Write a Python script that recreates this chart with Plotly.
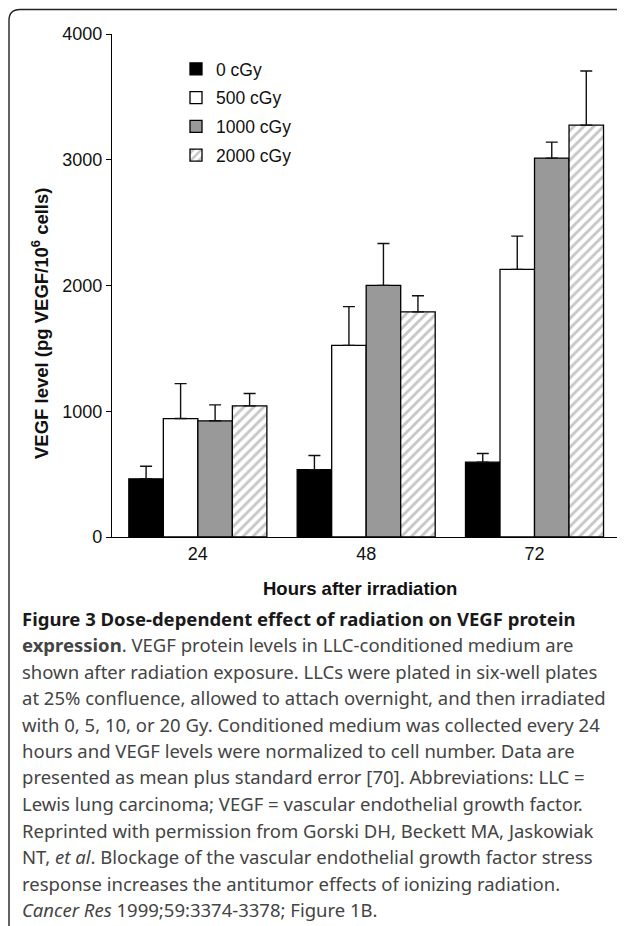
import plotly.graph_objects as go

# ---------------- data ----------------
hours = ["24", "48", "72"]
series_names = ["0 cGy", "500 cGy", "1000 cGy", "2000 cGy"]
vegf_0 = [463, 535, 595]
vegf_500 = [942, 1524, 2128]
vegf_1000 = [924, 2001, 3013]
vegf_2000 = [1043, 1790, 3275]
se_0 = [100, 113, 69]
se_500 = [278, 308, 265]
se_1000 = [127, 333, 127]
se_2000 = [98, 129, 431]
y_ticks = [0, 1000, 2000, 3000, 4000]

caption_lines = [
    "<b>Figure 3 Dose-dependent effect of radiation on VEGF protein</b>",
    "<b>expression</b>. VEGF protein levels in LLC-conditioned medium are",
    "shown after radiation exposure. LLCs were plated in six-well plates",
    "at 25% confluence, allowed to attach overnight, and then irradiated",
    "with 0, 5, 10, or 20 Gy. Conditioned medium was collected every 24",
    "hours and VEGF levels were normalized to cell number. Data are",
    "presented as mean plus standard error [70]. Abbreviations: LLC =",
    "Lewis lung carcinoma; VEGF = vascular endothelial growth factor.",
    "Reprinted with permission from Gorski DH, Beckett MA, Jaskowiak",
    "NT, <i>et al</i>. Blockage of the vascular endothelial growth factor stress",
    "response increases the antitumor effects of ionizing radiation.",
    "<i>Cancer Res</i> 1999;59:3374-3378; Figure 1B.",
]

# ---------------- layout geometry ----------------
# the page body has an 8px margin, so the figure is 8px smaller on each side
OFF = 8
W, H = 625 - OFF, 926 - OFF
ML, MR, MT, MB = 104, 8, 26, 389
PW, PH = W - ML - MR, H - MT - MB


def px(xs):
    # screen x -> paper x
    return (xs - OFF - ML) / PW


def py(ys):
    # screen y -> paper y
    return (H - MB - (ys - OFF)) / PH


AX_FONT = "Liberation Sans, Arial, Helvetica, sans-serif"
CAP_FONT = "Noto Sans, Open Sans, sans-serif"

values = [vegf_0, vegf_500, vegf_1000, vegf_2000]
errors = [se_0, se_500, se_1000, se_2000]
fills = ["#000000", "#ffffff", "#999999", "#ffffff"]
patterns = ["", "", "", "/"]

fig = go.Figure()
for i, name in enumerate(series_names):
    marker = dict(color=fills[i], line=dict(color="#000000", width=1.3))
    if patterns[i]:
        marker["pattern"] = dict(shape=patterns[i], fgcolor="#8f8f8f",
                                 bgcolor="#ffffff", size=7, solidity=0.42)
    fig.add_trace(go.Bar(
        x=hours, y=values[i], name=name, marker=marker,
        legendgroup=name,
        error_y=dict(type="data", array=errors[i],
                     arrayminus=[0] * len(errors[i]), symmetric=False,
                     color="#111111", thickness=1.4, width=6),
    ))

annotations = []
# y-axis title
annotations.append(dict(
    text="<b>VEGF level (pg VEGF/10<sup>6</sup> cells)</b>",
    x=px(40), y=py(324), xref="paper", yref="paper", textangle=-90,
    showarrow=False, font=dict(family=AX_FONT, size=18.5, color="#111111"),
    xanchor="center", yanchor="middle"))
# x-axis title
annotations.append(dict(
    text="<b>Hours after irradiation</b>",
    x=px(360), y=py(588), xref="paper", yref="paper",
    showarrow=False, font=dict(family=AX_FONT, size=18.5, color="#111111"),
    xanchor="center", yanchor="middle"))

line_y0, line_dy = 618, 26.5
for k, txt in enumerate(caption_lines):
    annotations.append(dict(
        text=txt, x=px(20), y=py(line_y0 + k * line_dy),
        xref="paper", yref="paper", showarrow=False,
        xanchor="left", yanchor="middle", align="left",
        font=dict(family=CAP_FONT, size=18.5,
                  color="#1a1a1a" if k == 0 else "#444444")))

# frame with rounded top-left corner (screen coordinates)
fx, fy, r = 9, 9.5, 11
frame_path = (f"M {px(fx)},{py(926 + 5)} L {px(fx)},{py(fy + r)} "
              f"Q {px(fx)},{py(fy)} {px(fx + r)},{py(fy)} L {px(625 + 5)},{py(fy)}")

fig.update_layout(
    width=W, height=H,
    margin=dict(l=ML, r=MR, t=MT, b=MB, pad=0),
    paper_bgcolor="#ffffff", plot_bgcolor="#ffffff",
    barmode="group", bargap=0.18, bargroupgap=0,
    font=dict(family=AX_FONT, size=18, color="#111111"),
    showlegend=True,
    legend=dict(x=px(176), y=py(51), xanchor="left", yanchor="top",
                bgcolor="rgba(0,0,0,0)", borderwidth=0,
                font=dict(family=AX_FONT, size=17.5, color="#111111"),
                traceorder="grouped", tracegroupgap=3,
                itemclick=False),
    xaxis=dict(range=[-0.51, 2.49], showline=True, linecolor="#000000",
               linewidth=1.4, ticks="", showgrid=False, zeroline=False,
               tickfont=dict(family=AX_FONT, size=18, color="#111111"),
               fixedrange=True),
    yaxis=dict(range=[0, 4000], tickvals=y_ticks, showline=True,
               linecolor="#000000", linewidth=1.4, ticks="outside",
               ticklen=5, tickwidth=1.4, tickcolor="#000000",
               showgrid=False, zeroline=False,
               tickfont=dict(family=AX_FONT, size=18, color="#111111"),
               fixedrange=True),
    annotations=annotations,
    shapes=[dict(type="path", xref="paper", yref="paper", path=frame_path,
                 line=dict(color="#222222", width=1.4))],
)

fig.write_html("out.html")
